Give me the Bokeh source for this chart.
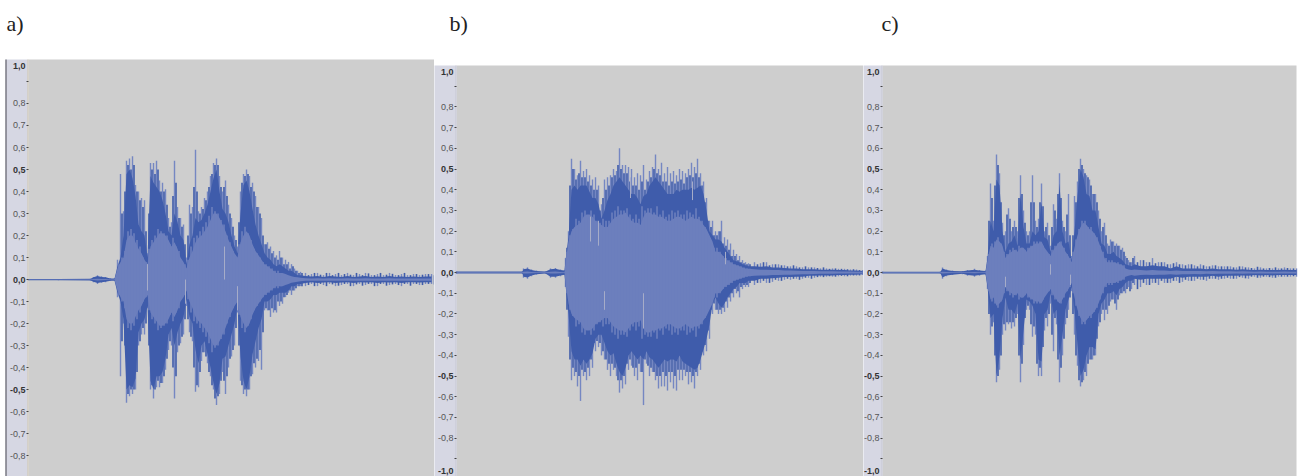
from bokeh.plotting import figure
from bokeh.layouts import row
from bokeh.models import Range1d, LinearAxis, FixedTicker, BoxAnnotation
from bokeh.embed import file_html
from bokeh.resources import INLINE
from bokeh.core.properties import value

# ---- tick labels ----
reg_ticks = [0.9, 0.8, 0.7, 0.6, 0.4, 0.3, 0.2, 0.1, -0.1, -0.2, -0.3, -0.4, -0.6, -0.7, -0.8, -0.9]
bold_ticks = [0.5, 0.0, -0.5]

# ---- panel a ----
a_time = [0,30,62,65,69,73,77,82,86,
 89,92,95,98,101,104,107,110,113,116,119,122,125,128,131,134,137,140,143,146,149,152,155,158,161,164,167,170,173,176,179,182,185,188,191,194,197,200,203,206,209,212,215,218,221,224,227,230,233,236,239,242,245,248,251,
 254,257,260,263,266,269,272,
 277,283,289,295,301,307,313,319,325,331,337,343,349,355,361,367,373,379,385,391,397,403]
a_up = [.003,.003,.004,.012,.02,.015,.012,.006,.006,
 .09,.48,.31,.54,.55,.56,.43,.40,.37,.36,.12,.53,.53,.54,.45,.44,.41,.28,.26,.54,.33,.28,.25,.10,.34,.33,.59,.31,.33,.37,.40,.47,.53,.55,.47,.40,.45,.34,.28,.20,.15,.40,.48,.50,.47,.44,.38,.33,.28,.16,.17,.15,.13,.11,.13,
 .10,.09,.08,.07,.05,.04,.035,
 .03,.025,.03,.02,.03,.025,.02,.03,.02,.025,.03,.02,.025,.02,.03,.02,.025,.02,.025,.02,.025,.025]
a_lo = [-.003,-.003,-.004,-.012,-.02,-.015,-.012,-.006,-.006,
 -.08,-.44,-.20,-.56,-.53,-.52,-.50,-.30,-.25,-.25,-.13,-.50,-.54,-.49,-.49,-.47,-.41,-.32,-.30,-.54,-.33,-.29,-.25,-.12,-.24,-.28,-.51,-.49,-.37,-.33,-.38,-.44,-.50,-.57,-.52,-.42,-.52,-.40,-.35,-.30,-.15,-.46,-.52,-.53,-.50,-.43,-.40,-.37,-.41,-.14,-.14,-.17,-.15,-.15,-.12,
 -.11,-.08,-.06,-.07,-.05,-.03,-.03,
 -.03,-.02,-.03,-.025,-.02,-.03,-.025,-.02,-.03,-.02,-.025,-.02,-.03,-.02,-.025,-.02,-.03,-.02,-.02,-.025,-.02,-.02]
a_body_up = [.003,.003,.004,.01,.016,.012,.01,.005,.005,
 .06,.10,.20,.48,.50,.46,.38,.25,.22,.20,.10,.47,.44,.42,.40,.36,.30,.22,.20,.30,.26,.20,.18,.07,.16,.20,.28,.26,.27,.30,.34,.40,.46,.50,.40,.32,.30,.26,.20,.15,.12,.30,.43,.45,.40,.32,.25,.20,.16,.12,.10,.09,.07,.06,.07,
 .06,.05,.04,.04,.03,.02,.02,
 .016,.014,.016,.012,.016,.014,.012,.016,.012,.014,.016,.012,.014,.012,.016,.012,.014,.012,.014,.012,.014,.014]
a_body_lo = [-.003,-.003,-.004,-.01,-.016,-.012,-.01,-.005,-.005,
 -.06,-.10,-.18,-.50,-.48,-.49,-.45,-.24,-.20,-.18,-.12,-.46,-.50,-.44,-.44,-.42,-.36,-.25,-.22,-.30,-.24,-.20,-.17,-.09,-.17,-.20,-.32,-.38,-.30,-.28,-.34,-.40,-.47,-.52,-.47,-.36,-.35,-.30,-.25,-.20,-.12,-.35,-.46,-.50,-.44,-.34,-.28,-.22,-.18,-.10,-.10,-.09,-.07,-.07,-.06,
 -.06,-.06,-.05,-.03,-.03,-.02,-.02,
 -.016,-.012,-.016,-.014,-.012,-.016,-.014,-.012,-.016,-.012,-.014,-.012,-.016,-.012,-.014,-.012,-.016,-.012,-.012,-.014,-.012,-.012]
a_core = [.001,.001,.001,.002,.004,.003,.002,.001,.001,
 .05,.08,.10,.18,.20,.20,.17,.14,.12,.09,.07,.15,.17,.19,.21,.21,.20,.18,.15,.17,.14,.10,.08,.05,.10,.13,.17,.19,.20,.22,.24,.27,.30,.30,.28,.25,.22,.18,.15,.12,.10,.17,.20,.22,.20,.16,.13,.11,.09,.07,.06,.05,.04,.03,.03,
 .03,.025,.02,.015,.012,.01,.008,
 .006,.005,.006,.005,.006,.005,.005,.006,.005,.005,.006,.005,.005,.005,.006,.005,.005,.005,.005,.005,.005,.005]
a_mid_time = [90.5,93.5,96.5,99.5,102.5,105.5,108.5,111.5,114.5,117.5,120.5,123.5,126.5,129.5,132.5,135.5,138.5,141.5,144.5,147.5,150.5,153.5,156.5,159.5,162.5,165.5,168.5,171.5,174.5,177.5,180.5,183.5,186.5,189.5,192.5,195.5,198.5,201.5,204.5,207.5,210.5,213.5,216.5,219.5,222.5,225.5,228.5,231.5,234.5,237.5,240.5,243.5,246.5,249.5,252.5,
 255.5,258.5,261.5,264.5,267.5,270.5,273.5,
 280,286,292,298,304,310,316,322,328,334,340,346,352,358,364,370,376,382,388,394,400,406]
a_mid_up = [.06,.30,.40,.52,.50,.52,.40,.36,.33,.22,.30,.50,.48,.50,.40,.40,.34,.24,.38,.44,.28,.24,.16,.20,.30,.42,.40,.30,.32,.36,.42,.48,.52,.52,.42,.42,.38,.30,.24,.18,.26,.44,.47,.48,.42,.40,.33,.30,.20,.16,.14,.12,.10,.09,.10,
 .07,.07,.05,.06,.04,.03,.03,
 .02,.03,.022,.03,.02,.03,.025,.022,.03,.02,.028,.02,.03,.022,.026,.02,.03,.02,.025,.022,.025,.02]
a_mid_lo = [-.06,-.28,-.30,-.52,-.50,-.50,-.42,-.28,-.22,-.20,-.30,-.48,-.50,-.46,-.47,-.44,-.36,-.28,-.40,-.44,-.30,-.26,-.18,-.18,-.26,-.40,-.48,-.42,-.33,-.35,-.42,-.48,-.54,-.53,-.46,-.46,-.44,-.36,-.32,-.22,-.30,-.48,-.50,-.50,-.44,-.38,-.36,-.32,-.24,-.13,-.14,-.13,-.14,-.10,-.10,
 -.08,-.07,-.05,-.05,-.04,-.03,-.03,
 -.025,-.03,-.02,-.03,-.022,-.028,-.02,-.03,-.022,-.028,-.02,-.03,-.02,-.028,-.022,-.025,-.02,-.028,-.02,-.025,-.02,-.022]
a_mid_core = [.07,.10,.13,.22,.23,.21,.18,.15,.10,.08,.14,.18,.20,.23,.22,.21,.20,.16,.19,.15,.13,.08,.07,.09,.15,.19,.20,.22,.24,.26,.29,.33,.31,.30,.27,.25,.20,.17,.13,.10,.16,.22,.24,.21,.18,.14,.12,.10,.08,.07,.06,.05,.04,.04,.03]
a_gap_time = [119,157,196,209]
a_gap_up = [.07,.00,.15,-.03]
a_gap_lo = [-.05,-.11,.00,-.14]

# ---- panel b ----
b_time = [0,66,67,71,75,80,89,94,99,104,108,
 109,112,115,118,121,124,127,130,133,136,139,142,145,148,151,154,157,160,163,166,169,172,175,178,181,184,187,190,193,196,199,202,205,208,211,214,217,220,223,226,229,232,235,238,241,244,247,250,253,256,259,262,265,268,271,274,277,280,283,286,289,292,
 298,304,310,316,322,328,334,340,346,352,358,364,370,376,382,388,394,400,406]
b_up = [.006,.006,.02,.025,.015,.01,.006,.02,.022,.015,.012,
 .07,.20,.55,.50,.47,.54,.49,.50,.47,.45,.46,.42,.33,.45,.46,.47,.50,.49,.60,.52,.52,.51,.50,.46,.48,.47,.52,.45,.49,.51,.57,.50,.53,.48,.51,.48,.49,.47,.50,.49,.48,.50,.53,.51,.55,.48,.44,.36,.25,.25,.20,.20,.25,.17,.16,.14,.11,.09,.08,.06,.05,.045,
 .05,.045,.05,.04,.04,.035,.03,.03,.025,.025,.025,.02,.02,.02,.018,.018,.015,.015,.012]
b_lo = [-.006,-.006,-.025,-.03,-.018,-.01,-.006,-.025,-.025,-.018,-.012,
 -.07,-.31,-.52,-.50,-.55,-.62,-.50,-.52,-.50,-.46,-.38,-.36,-.40,-.42,-.47,-.50,-.47,-.50,-.58,-.56,-.54,-.47,-.45,-.50,-.52,-.48,-.64,-.44,-.50,-.48,-.52,-.56,-.55,-.55,-.57,-.53,-.56,-.57,-.52,-.52,-.50,-.54,-.53,-.56,-.50,-.47,-.40,-.38,-.32,-.20,-.18,-.20,-.20,-.19,-.17,-.14,-.12,-.10,-.12,-.08,-.07,-.07,
 -.06,-.05,-.05,-.045,-.04,-.035,-.035,-.03,-.03,-.025,-.025,-.02,-.02,-.02,-.018,-.018,-.015,-.015,-.012]
b_body_up = [.005,.005,.016,.02,.012,.008,.005,.016,.018,.012,.01,
 .06,.17,.40,.42,.40,.42,.42,.42,.39,.36,.36,.33,.26,.30,.35,.38,.42,.44,.46,.44,.42,.40,.38,.38,.36,.33,.37,.38,.42,.44,.46,.44,.42,.40,.38,.38,.38,.40,.39,.40,.40,.40,.41,.40,.41,.42,.38,.30,.20,.18,.16,.16,.15,.12,.10,.08,.06,.055,.05,.04,.035,.03,
 .03,.028,.03,.025,.025,.022,.02,.02,.016,.016,.016,.014,.014,.014,.012,.012,.01,.01,.008]
b_body_lo = [-.005,-.005,-.02,-.024,-.014,-.008,-.005,-.02,-.02,-.014,-.01,
 -.06,-.20,-.38,-.42,-.42,-.45,-.42,-.44,-.42,-.39,-.32,-.30,-.30,-.34,-.38,-.40,-.39,-.44,-.48,-.50,-.46,-.40,-.38,-.40,-.42,-.40,-.42,-.38,-.41,-.42,-.44,-.46,-.44,-.42,-.43,-.42,-.42,-.43,-.40,-.43,-.44,-.45,-.46,-.47,-.46,-.42,-.37,-.32,-.25,-.15,-.12,-.15,-.17,-.15,-.12,-.10,-.08,-.07,-.05,-.05,-.05,-.04,
 -.04,-.03,-.03,-.028,-.025,-.022,-.022,-.02,-.02,-.016,-.016,-.014,-.014,-.014,-.012,-.012,-.01,-.01,-.008]
b_core = [.002,.002,.004,.005,.003,.002,.002,.004,.005,.003,.002,
 .05,.15,.20,.22,.23,.24,.27,.28,.28,.27,.25,.24,.23,.22,.22,.24,.26,.27,.28,.28,.29,.27,.25,.24,.24,.23,.27,.29,.29,.28,.28,.27,.27,.26,.25,.25,.26,.27,.27,.26,.25,.26,.27,.26,.26,.25,.23,.21,.18,.15,.10,.10,.09,.07,.06,.05,.04,.035,.03,.025,.02,.018,
 .016,.014,.014,.012,.012,.01,.01,.009,.008,.008,.007,.006,.006,.006,.005,.005,.005,.004,.004]
b_mid_time = [110.5,113.5,116.5,119.5,122.5,125.5,128.5,131.5,134.5,137.5,140.5,143.5,146.5,149.5,152.5,155.5,158.5,161.5,164.5,167.5,170.5,173.5,176.5,179.5,182.5,185.5,188.5,191.5,194.5,197.5,200.5,203.5,206.5,209.5,212.5,215.5,218.5,221.5,224.5,227.5,230.5,233.5,236.5,239.5,242.5,245.5,248.5,251.5,254.5,257.5,260.5,263.5,266.5,269.5,272.5,275.5,278.5,281.5,284.5,287.5,290.5,293.5,
 301,307,313,319,325,331,337,343,349,355,361,367,373,379,385,391,397,403]
b_mid_up = [.12,.42,.50,.45,.48,.46,.46,.44,.42,.40,.40,.30,.36,.40,.42,.46,.47,.52,.50,.48,.48,.44,.42,.42,.40,.44,.40,.44,.46,.50,.48,.47,.44,.44,.42,.44,.43,.44,.45,.43,.46,.47,.46,.48,.46,.42,.34,.25,.22,.18,.18,.20,.14,.13,.11,.08,.08,.06,.05,.045,.04,.04,
 .04,.05,.035,.04,.035,.03,.035,.025,.03,.025,.022,.025,.018,.02,.018,.016,.016,.012]
b_mid_lo = [-.18,-.42,-.46,-.48,-.50,-.47,-.48,-.46,-.42,-.34,-.33,-.34,-.38,-.42,-.44,-.44,-.46,-.52,-.52,-.50,-.44,-.42,-.46,-.46,-.44,-.48,-.42,-.45,-.46,-.48,-.50,-.50,-.48,-.50,-.48,-.48,-.50,-.47,-.47,-.47,-.48,-.48,-.50,-.48,-.44,-.38,-.35,-.28,-.18,-.15,-.18,-.18,-.17,-.14,-.12,-.10,-.08,-.09,-.07,-.06,-.06,-.05,
 -.05,-.04,-.05,-.035,-.04,-.03,-.03,-.035,-.025,-.03,-.022,-.022,-.018,-.02,-.016,-.018,-.014,-.014]
b_mid_core = [.10,.18,.21,.26,.25,.29,.30,.26,.30,.28,.25,.24,.26,.25,.25,.29,.30,.32,.30,.30,.31,.28,.26,.28,.26,.32,.30,.31,.31,.29,.32,.28,.30,.27,.28,.30,.29,.30,.28,.28,.30,.29,.28,.31,.27,.25,.22,.18,.14,.12,.12,.10,.08,.07,.06,.05,.04,.035,.03,.025,.02,.018]
b_gap_time = [134,142,148,174,187,236,269]
b_gap_up = [.27,.25,-.09,.46,-.10,.44,.10]
b_gap_lo = [.15,.13,-.18,.36,-.27,.35,.04]

# ---- panel c ----
c_time = [0,58,60,64,70,80,85,92,97,103,
 105,108,111,114,117,120,123,126,129,132,135,138,141,144,147,150,153,156,159,162,165,168,171,174,177,180,183,186,189,192,195,198,201,204,207,210,213,216,219,222,225,228,231,234,237,240,
 243,246,249,252,258,264,270,276,282,288,294,300,306,312,318,324,330,336,342,348,354,360,366,372,378,384,390,396,402,408,414]
c_up = [.005,.005,.025,.015,.01,.008,.012,.018,.012,.01,
 .08,.43,.25,.57,.48,.24,.20,.31,.20,.25,.20,.47,.30,.20,.20,.47,.25,.26,.43,.20,.24,.13,.33,.26,.48,.25,.20,.38,.08,.37,.44,.55,.50,.47,.45,.38,.38,.30,.20,.24,.14,.16,.15,.14,.13,.12,
 .08,.06,.05,.08,.06,.05,.07,.05,.05,.04,.05,.04,.04,.035,.04,.03,.035,.03,.03,.03,.025,.03,.025,.02,.025,.02,.02,.02,.025,.02,.02]
c_lo = [-.005,-.005,-.03,-.018,-.012,-.008,-.015,-.02,-.015,-.01,
 -.08,-.30,-.24,-.53,-.47,-.30,-.28,-.25,-.27,-.26,-.20,-.53,-.35,-.18,-.18,-.31,-.30,-.50,-.50,-.28,-.26,-.15,-.38,-.25,-.53,-.40,-.25,-.18,-.09,-.30,-.45,-.55,-.52,-.50,-.42,-.42,-.40,-.26,-.20,-.23,-.20,-.14,-.13,-.18,-.11,-.10,
 -.10,-.07,-.08,-.06,-.07,-.06,-.05,-.06,-.05,-.05,-.04,-.045,-.04,-.04,-.035,-.04,-.03,-.035,-.03,-.03,-.03,-.025,-.03,-.02,-.025,-.02,-.025,-.02,-.02,-.02,-.02]
c_body_up = [.004,.004,.02,.012,.008,.006,.01,.014,.01,.008,
 .07,.25,.20,.45,.42,.20,.10,.14,.15,.18,.13,.38,.22,.14,.14,.20,.18,.20,.34,.17,.16,.10,.18,.20,.43,.20,.14,.15,.06,.20,.37,.50,.46,.38,.37,.30,.30,.22,.14,.13,.09,.09,.10,.08,.07,.06,
 .04,.035,.03,.04,.03,.03,.035,.03,.03,.02,.03,.02,.02,.02,.02,.016,.02,.016,.016,.016,.014,.016,.014,.012,.014,.012,.012,.012,.014,.012,.012]
c_body_lo = [-.004,-.004,-.024,-.014,-.01,-.006,-.012,-.016,-.012,-.008,
 -.07,-.22,-.20,-.50,-.40,-.22,-.12,-.18,-.18,-.20,-.15,-.42,-.28,-.13,-.14,-.16,-.20,-.42,-.43,-.20,-.18,-.10,-.20,-.18,-.40,-.30,-.18,-.13,-.07,-.18,-.35,-.50,-.47,-.40,-.36,-.36,-.37,-.20,-.15,-.13,-.10,-.10,-.09,-.11,-.08,-.07,
 -.05,-.04,-.04,-.03,-.035,-.03,-.03,-.03,-.03,-.03,-.02,-.025,-.02,-.02,-.02,-.02,-.016,-.02,-.016,-.016,-.016,-.014,-.016,-.012,-.014,-.012,-.014,-.012,-.012,-.012,-.012]
c_core = [.002,.002,.004,.003,.002,.002,.002,.003,.002,.002,
 .06,.13,.12,.16,.15,.13,.07,.09,.10,.11,.10,.12,.12,.10,.12,.13,.14,.14,.15,.12,.10,.08,.11,.13,.15,.13,.10,.08,.05,.12,.18,.22,.24,.23,.21,.20,.18,.15,.11,.07,.05,.05,.05,.045,.04,.035,
 .02,.015,.012,.015,.012,.01,.012,.01,.01,.008,.01,.008,.008,.007,.008,.006,.007,.006,.006,.006,.005,.006,.005,.004,.005,.004,.004,.004,.005,.004,.004]
c_mid_time = [106.5,109.5,112.5,115.5,118.5,121.5,124.5,127.5,130.5,133.5,136.5,139.5,142.5,145.5,148.5,151.5,154.5,157.5,160.5,163.5,166.5,169.5,172.5,175.5,178.5,181.5,184.5,187.5,190.5,193.5,196.5,199.5,202.5,205.5,208.5,211.5,214.5,217.5,220.5,223.5,226.5,229.5,232.5,235.5,238.5,241.5,
 244.5,247.5,250.5,255,261,267,273,279,285,291,297,303,309,315,321,327,333,339,345,351,357,363,369,375,381,387,393,399,405,411]
c_mid_up = [.25,.36,.42,.52,.34,.18,.28,.26,.22,.22,.36,.38,.24,.18,.34,.34,.22,.34,.32,.22,.18,.22,.30,.38,.36,.22,.28,.18,.18,.34,.50,.52,.48,.46,.42,.38,.34,.26,.22,.18,.13,.15,.13,.13,.11,.10,
 .07,.05,.07,.05,.06,.05,.045,.05,.04,.045,.04,.035,.04,.03,.035,.03,.035,.03,.03,.025,.03,.025,.022,.028,.02,.022,.025,.02,.022,.02]
c_mid_lo = [-.20,-.26,-.40,-.50,-.40,-.25,-.24,-.24,-.24,-.22,-.40,-.44,-.22,-.16,-.25,-.26,-.44,-.46,-.36,-.22,-.20,-.30,-.22,-.42,-.46,-.32,-.22,-.12,-.20,-.40,-.52,-.53,-.48,-.44,-.42,-.40,-.32,-.24,-.18,-.18,-.16,-.13,-.15,-.13,-.10,-.09,
 -.08,-.09,-.05,-.08,-.05,-.06,-.05,-.04,-.05,-.04,-.05,-.035,-.04,-.03,-.035,-.03,-.03,-.03,-.025,-.03,-.022,-.028,-.02,-.025,-.02,-.022,-.025,-.02,-.02,-.018]
c_mid_core = [.09,.14,.15,.17,.14,.10,.09,.11,.12,.11,.13,.12,.11,.12,.13,.15,.15,.15,.13,.10,.09,.11,.13,.14,.15,.12,.09,.07,.10,.16,.21,.25,.25,.22,.22,.19,.17,.13,.10,.07,.06,.06,.05,.05,.04,.035]
c_gap_time = [123,168,188]
c_gap_up = [-.02,.04,-.01]
c_gap_lo = [-.07,-.01,-.06]

for name, cols in (("a", (a_time, a_up, a_lo, a_body_up, a_body_lo, a_core)),
                   ("b", (b_time, b_up, b_lo, b_body_up, b_body_lo, b_core)),
                   ("c", (c_time, c_up, c_lo, c_body_up, c_body_lo, c_core)),
                   ("am", (a_mid_time, a_mid_up, a_mid_lo)),
                   ("bm", (b_mid_time, b_mid_up, b_mid_lo)),
                   ("cm", (c_mid_time, c_mid_up, c_mid_lo))):
    lens = [len(col) for col in cols]
    assert len(set(lens)) == 1, (name, lens)

GREY = "#cecece"
STRIP = "#d6d7e3"
DARK = "#3f5cab"
CORE = "#6c7fbd"
SPIKE = "#7587c2"
GAP = "#a6acc8"
TICK_FONT = "Liberation Sans"


def comma(v):
    return f"{v:.1f}".replace(".", ",")


def panel(letter, series, width, strip, strip_edge, plot_w, y_low, y_top, letter_x, letter_off, has_bottom, edge, label_off):
    time, up, lo, body_up, body_lo, core, mid_time, mid_up, mid_lo, mid_core, gap_time, gap_up, gap_lo = series
    p = figure(width=width, height=476, output_backend="svg", toolbar_location=None,
               x_range=Range1d(-strip, width - strip), y_range=Range1d(y_low, y_top),
               min_border_left=0, min_border_right=0, min_border_top=0, min_border_bottom=0,
               x_axis_type=None, y_axis_type=None, outline_line_color=None,
               background_fill_color="white", border_fill_color="white", margin=0)
    p.grid.visible = False
    p.add_layout(BoxAnnotation(left=0, right=plot_w, top=1.0, fill_color=GREY, fill_alpha=1, line_color=None, level="underlay"))
    p.add_layout(BoxAnnotation(left=-strip_edge, right=0, top=1.0, fill_color=STRIP, fill_alpha=1, line_color=None, level="underlay"))
    p.add_layout(BoxAnnotation(left=-1, right=0, top=1.0, fill_color=edge, fill_alpha=1, line_color=None, level="underlay"))
    if letter == "a)":
        p.add_layout(BoxAnnotation(left=-strip_edge, right=-strip_edge + 1, top=1.0, fill_color="#4b4b55", fill_alpha=1, line_color=None, level="underlay"))
    p.segment(time, lo, time, up, line_color=SPIKE, line_width=1.4)
    p.segment(mid_time, mid_lo, mid_time, mid_up, line_color=DARK, line_width=1.6)
    p.varea(time, body_lo, body_up, fill_color=DARK)
    p.varea(time, [-c for c in core], core, fill_color=CORE)
    n = len(mid_core)
    p.segment(mid_time[:n], [-c for c in mid_core], mid_time[:n], mid_core, line_color=CORE, line_width=1.6)
    p.segment(gap_time, gap_lo, gap_time, gap_up, line_color=GAP, line_width=1.0)
    for ticks, style, color in ((reg_ticks, "normal", "#555555"), (bold_ticks, "bold", "#333333")):
        ax = LinearAxis(ticker=FixedTicker(ticks=ticks), fixed_location=0,
                        major_label_overrides={t: ("" if abs(t) == 0.9 else comma(t)) for t in ticks},
                        major_label_text_font=TICK_FONT, major_label_text_font_size="9px",
                        major_label_text_font_style=style, major_label_text_color=color,
                        major_label_standoff=1, major_tick_out=2, major_tick_in=0,
                        major_tick_line_color="#444444", minor_tick_line_color=None,
                        axis_line_color=None)
        p.add_layout(ax, "left")
    end_v = [1.0] + ([y_low] if has_bottom else [])
    end_t = ["1,0"] + (["-1,0"] if has_bottom else [])
    end_off = [label_off] + ([-6] if has_bottom else [])
    p.text(x=[-3] * len(end_v), y=end_v, text=end_t, y_offset=end_off, text_align="right", text_baseline="middle",
           text_font=value(TICK_FONT), text_font_size="9px", text_font_style="bold", text_color="#333333")
    p.text(x=[letter_x], y=[1.0], text=[letter], y_offset=letter_off, text_align="left", text_baseline="middle",
           text_font=value("Liberation Serif"), text_font_size="22px", text_color="#222222")
    return p


a_series = (a_time, a_up, a_lo, a_body_up, a_body_lo, a_core, a_mid_time, a_mid_up, a_mid_lo, a_mid_core, a_gap_time, a_gap_up, a_gap_lo)
b_series = (b_time, b_up, b_lo, b_body_up, b_body_lo, b_core, b_mid_time, b_mid_up, b_mid_lo, b_mid_core, b_gap_time, b_gap_up, b_gap_lo)
c_series = (c_time, c_up, c_lo, c_body_up, c_body_lo, c_core, c_mid_time, c_mid_up, c_mid_lo, c_mid_core, c_gap_time, c_gap_up, c_gap_lo)

pa = panel("a)", a_series, 434, 28, 23, 406, -0.895, 1.268, -22, -36, False, "#cfc8b0", 7)
pb = panel("b)", b_series, 429, 22, 24, 407, -0.985, 1.314, -7, -42, True, "#c6c7d3", 6)
pc = panel("c)", c_series, 438, 19, 21, 414, -0.985, 1.314, -1, -42, True, "#c6c7d3", 6)

root = row(pa, pb, pc, spacing=0)
open("out.html", "w").write(file_html(root, INLINE))
